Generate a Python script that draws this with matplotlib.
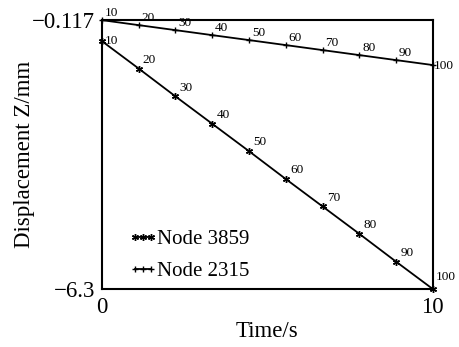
import numpy as np
import matplotlib
matplotlib.use("Agg")
import matplotlib.pyplot as plt

plt.rcParams['font.family'] = ['Liberation Serif', 'DejaVu Serif']

steps = [10, 20, 30, 40, 50, 60, 70, 80, 90, 100]
time = np.linspace(0, 10, len(steps))
node_3859 = [-0.60, -1.23, -1.87, -2.50, -3.13, -3.77, -4.40, -5.03, -5.67, -6.30]
node_2315 = [-0.117, -0.232, -0.347, -0.462, -0.576, -0.691, -0.806, -0.921, -1.036, -1.150]

fig = plt.figure(figsize=(4.59, 3.47), dpi=100)
ax = fig.add_axes([0.222, 0.167, 0.721, 0.775])

ax.plot(time, node_3859, color='black', lw=1.3, marker=(6, 2, 0), ms=5, mew=1.0,
        label='Node 3859', clip_on=False)
ax.plot(time, node_2315, color='black', lw=1.3, marker='+', ms=5, mew=1.0,
        label='Node 2315', clip_on=False)

for i, s in enumerate(steps):
    off = (3, 2) if i > 0 else (2, -4)
    if i == len(steps) - 1:
        off = (2, 4)
    ax.annotate(str(s), (time[i], node_3859[i]), xytext=off, textcoords='offset points',
                fontsize=9.5, ha='left', va='bottom')
    off2 = (2, 1)
    if i == len(steps) - 1:
        off2 = (1, -5)
    ax.annotate(str(s), (time[i], node_2315[i]), xytext=off2, textcoords='offset points',
                fontsize=9.5, ha='left', va='bottom')

ax.set_xlim(0, 10)
ax.set_ylim(-6.3, -0.117)
ax.set_xticks([0, 10])
ax.set_yticks([-6.3, -0.117])
ax.set_yticklabels(['\u22126.3', '\u22120.117'])
ax.tick_params(length=0, labelsize=16.5, pad=5)
ax.tick_params(axis='x', pad=6)
for sp in ax.spines.values():
    sp.set_linewidth(1.5)

ax.set_xlabel('Time/s', fontsize=16.5, labelpad=2)
ax.set_ylabel('Displacement Z/mm', fontsize=16.5, labelpad=-2)

ax.legend(loc='lower left', bbox_to_anchor=(0.035, -0.03), frameon=False, fontsize=15,
          numpoints=3, handlelength=1.35, handletextpad=0.0, labelspacing=0.6,
          borderaxespad=0.35)

fig.savefig('out.png', dpi=100)
